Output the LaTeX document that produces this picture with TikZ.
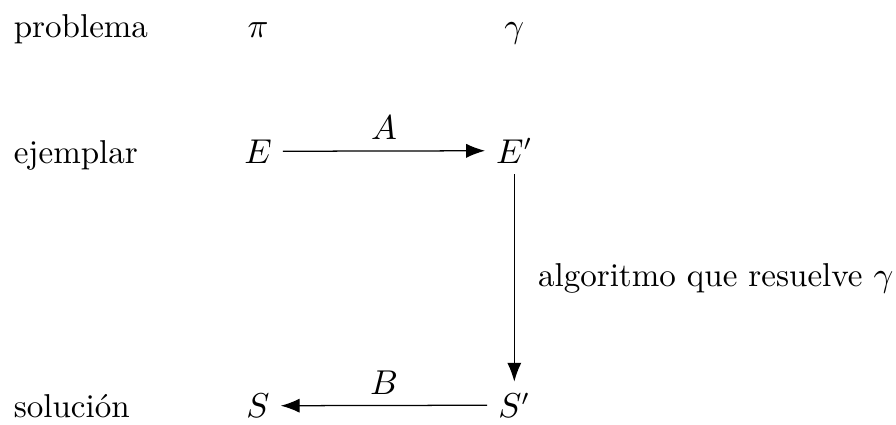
\documentclass[tikz,border=0pt]{standalone}
\usepackage{amsmath, amssymb}
\usepackage{tikz}
\usetikzlibrary{arrows.meta, positioning}

\begin{document}
\begin{tikzpicture}[
  font=\fontsize{10.5}{12.6}\selectfont,
  rowlbl/.style={anchor=base west},
  obj/.style={anchor=base},
  arr/.style={-{Latex[length=6pt]}}
]
  \useasboundingbox (0,0) rectangle (10,-4.743);

  % Row labels
  \node[rowlbl] (problema) at (0.03, -0.42) {problema};
  \node[rowlbl] (ejemplar) at (0.03, -1.82) {ejemplar};
  \node[rowlbl] (solucion) at (0.03, -4.66) {soluci\'on};

  % Problems
  \node[obj] (pi) at (2.88, -0.42) {$\pi$};
  \node[obj] (gamma) at (5.74, -0.42) {$\gamma$};

  % Instances and solutions
  \node[obj] (E) at (2.88, -1.82) {$E$};
  \node[obj] (Ep) at (5.74, -1.82) {$E'$};
  \node[obj] (S) at (2.88, -4.66) {$S$};
  \node[obj] (Sp) at (5.74, -4.66) {$S'$};

  % Arrows
  \draw[arr] (E) -- node[above] {$A$} (Ep);
  \draw[arr] (Ep) -- node[right=4pt] {algoritmo que resuelve $\gamma$} (Sp);
  \draw[arr] (Sp) -- node[above] {$B$} (S);
\end{tikzpicture}
\end{document}
